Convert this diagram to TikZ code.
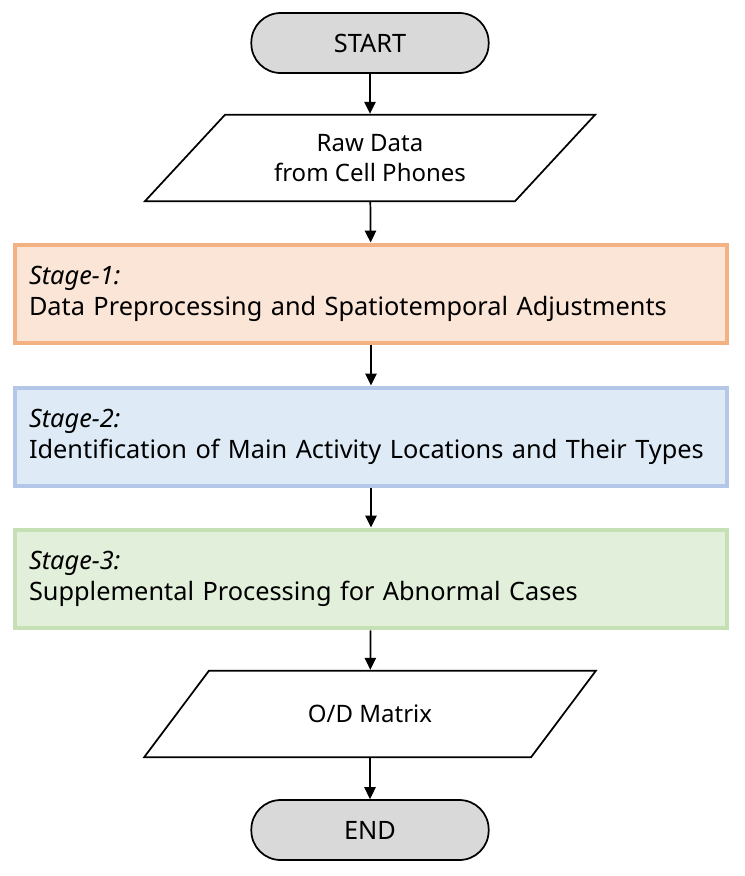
\documentclass[tikz,border=0pt]{standalone}
\usepackage{fontspec}
\setmainfont{Noto Sans}
\usetikzlibrary{shapes.geometric, arrows.meta, positioning}
\definecolor{termgray}{RGB}{217, 217, 217}
\definecolor{stageorange}{RGB}{244, 177, 131}
\definecolor{stageblue}{RGB}{180, 199, 231}
\definecolor{stagegreen}{RGB}{197, 224, 180}
\definecolor{fillorange}{RGB}{251, 229, 214}
\definecolor{fillblue}{RGB}{222, 235, 247}
\definecolor{fillgreen}{RGB}{226, 239, 218}

\begin{document}
\begin{tikzpicture}[x=0.75pt, y=-0.75pt,
    term/.style={draw, line width=1.3pt, fill=termgray, rounded corners=22pt, minimum width=178pt, minimum height=45pt, font=\fontsize{19}{22}\selectfont},
    iobox/.style={draw, line width=1.3pt, trapezium, trapezium left angle=45, trapezium right angle=135, trapezium stretches=true, minimum width=339pt, minimum height=65pt, align=center, font=\fontsize{18}{22}\selectfont},
    stagebox/.style={draw, line width=3.2pt, minimum width=534pt, minimum height=74pt, text width=513pt, align=left, font=\fontsize{19}{23.5}\selectfont},
    flow/.style={-{Triangle[length=9pt, width=8.5pt]}, line width=1.3pt}]
  \useasboundingbox (0,0) rectangle (744,876);

  % Terminals and data
  \node[term] (start) at (370, 43) {START};
  \node[iobox] (raw) at (370, 158) {Raw Data\\from Cell Phones};

  % Stages
  \node[stagebox, draw=stageorange, fill=fillorange] (stage1) at (371, 294) {\textit{Stage-1:}\\Data Preprocessing and Spatiotemporal Adjustments};
  \node[stagebox, draw=stageblue, fill=fillblue] (stage2) at (371, 437) {\textit{Stage-2:}\\Identification of Main Activity Locations and Their Types};
  \node[stagebox, draw=stagegreen, fill=fillgreen] (stage3) at (371, 579) {\textit{Stage-3:}\\Supplemental Processing for Abnormal Cases};

  \node[iobox] (od) at (370, 714) {O/D Matrix};
  \node[term] (end) at (370, 830) {END};

  % Arrows
  \draw[flow] (start) -- (raw);
  \draw[flow] (raw) -- (stage1);
  \draw[flow] (stage1) -- (stage2);
  \draw[flow] (stage2) -- (stage3);
  \draw[flow] (stage3) -- (od);
  \draw[flow] (od) -- (end);
\end{tikzpicture}
\end{document}
